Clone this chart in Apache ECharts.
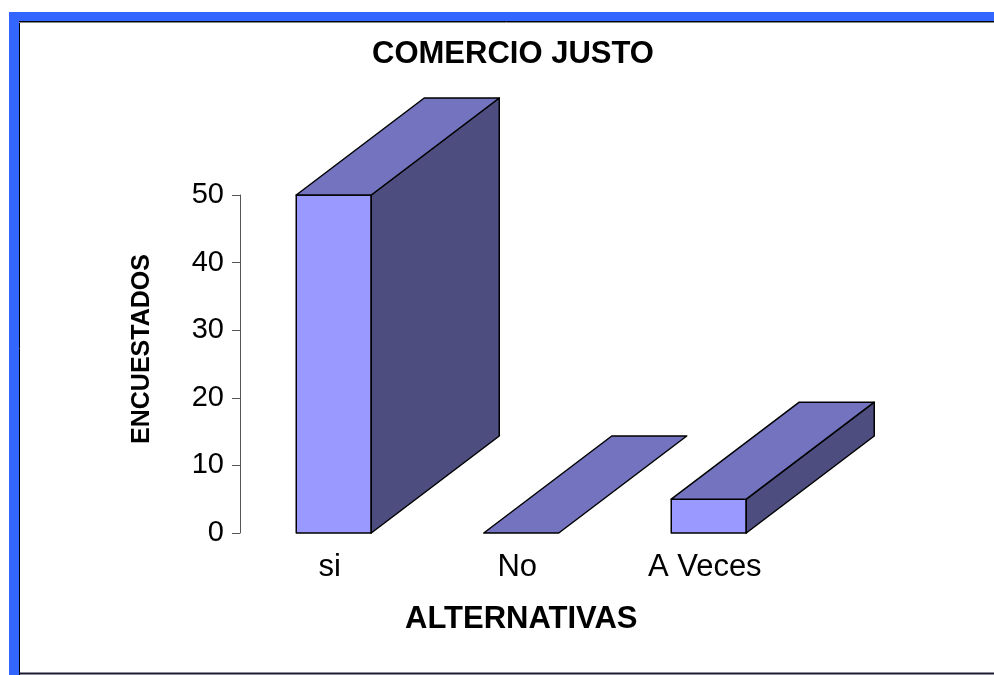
<!DOCTYPE html>
<html>
<head>
<meta charset="utf-8">
<script src="https://cdn.jsdelivr.net/npm/echarts@6/dist/echarts.min.js"></script>
<style>
  html, body { margin: 0; padding: 0; background: #fff; }
  #chart { width: 994px; height: 675px; }
</style>
</head>
<body>
<div id="chart"></div>
<script>
// datos del grafico
const categorias = ['si', 'No', 'A Veces']
const encuestados = [50, 0, 5]
const yTicks = [0, 10, 20, 30, 40, 50]

const font = 'Arial, "Liberation Sans", sans-serif'
const frontColor = '#9999FF'
const topColor = '#7373BF'
const sideColor = '#4D4D80'
// profundidad de la barra 3D (px)
const depthX = 128
const depthY = -97

const chart = echarts.init(document.getElementById('chart'))

function renderBar3D(params, api) {
  const idx = api.value(0)
  const val = api.value(1)
  const top = api.coord([idx, val])
  const base = api.coord([idx, 0])
  const w = api.size([1, 0])[0] * 0.4
  const x0 = top[0] - w / 2
  const x1 = top[0] + w / 2
  const yt = top[1]
  const yb = base[1]
  const stroke = { stroke: '#000', lineWidth: 1.5, lineJoin: 'round' }
  const children = []
  if (yb - yt > 0.5) {
    children.push({
      type: 'rect',
      shape: { x: x0, y: yt, width: w, height: yb - yt },
      style: Object.assign({ fill: frontColor }, stroke)
    })
    children.push({
      type: 'polygon',
      shape: { points: [[x1, yt], [x1 + depthX, yt + depthY], [x1 + depthX, yb + depthY], [x1, yb]] },
      style: Object.assign({ fill: sideColor }, stroke)
    })
  }
  children.push({
    type: 'polygon',
    shape: { points: [[x0, yt], [x1, yt], [x1 + depthX, yt + depthY], [x0 + depthX, yt + depthY]] },
    style: Object.assign({ fill: topColor }, stroke)
  })
  return { type: 'group', children: children }
}

chart.setOption({
  animation: false,
  backgroundColor: '#fff',
  title: {
    text: 'COMERCIO JUSTO',
    left: 508,
    textAlign: 'center',
    top: 34,
    textStyle: { fontFamily: font, fontSize: 31, fontWeight: 'bold', color: '#000' }
  },
  graphic: [
    // marco azul y borde negro
    { type: 'rect', shape: { x: 9, y: 12, width: 985, height: 10 }, style: { fill: '#3366FF' } },
    { type: 'rect', shape: { x: 9, y: 12, width: 10, height: 663 }, style: { fill: '#3366FF' } },
    { type: 'line', shape: { x1: 19.5, y1: 22, x2: 19.5, y2: 675 }, style: { stroke: '#000', lineWidth: 1 } },
    { type: 'line', shape: { x1: 19, y1: 21.5, x2: 994, y2: 21.5 }, style: { stroke: '#000', lineWidth: 1 } },
    { type: 'line', shape: { x1: 19, y1: 22.5, x2: 994, y2: 22.5 }, style: { stroke: '#888', lineWidth: 1 } },
    { type: 'line', shape: { x1: 19, y1: 673.5, x2: 994, y2: 673.5 }, style: { stroke: '#1a1a33', lineWidth: 2 } }
  ],
  grid: { left: 240, right: 191.5, top: 195, bottom: 142 },
  xAxis: {
    type: 'category',
    data: categorias,
    axisLine: { show: false },
    axisTick: { show: false },
    axisLabel: { fontFamily: font, fontSize: 31, color: '#000', margin: 19, padding: [0, 8, 0, 0] },
    name: 'ALTERNATIVAS',
    nameLocation: 'middle',
    nameGap: 71,
    nameTextStyle: { fontFamily: font, fontSize: 31, fontWeight: 'bold', color: '#000' }
  },
  yAxis: {
    type: 'value',
    min: yTicks[0],
    max: yTicks[yTicks.length - 1],
    interval: 10,
    splitLine: { show: false },
    axisLine: { show: true, lineStyle: { color: '#555', width: 1 } },
    axisTick: { show: true, length: 8, lineStyle: { color: '#555' } },
    axisLabel: { fontFamily: font, fontSize: 29, color: '#000', margin: 16 },
    name: 'ENCUESTADOS',
    nameLocation: 'middle',
    nameGap: 85,
    nameTextStyle: { fontFamily: font, fontSize: 25, fontWeight: 'bold', color: '#000', padding: [0, 0, 0, 30] }
  },
  series: [{
    type: 'custom',
    renderItem: renderBar3D,
    clip: false,
    data: encuestados.map((v, i) => [i, v])
  }]
})
</script>
</body>
</html>
